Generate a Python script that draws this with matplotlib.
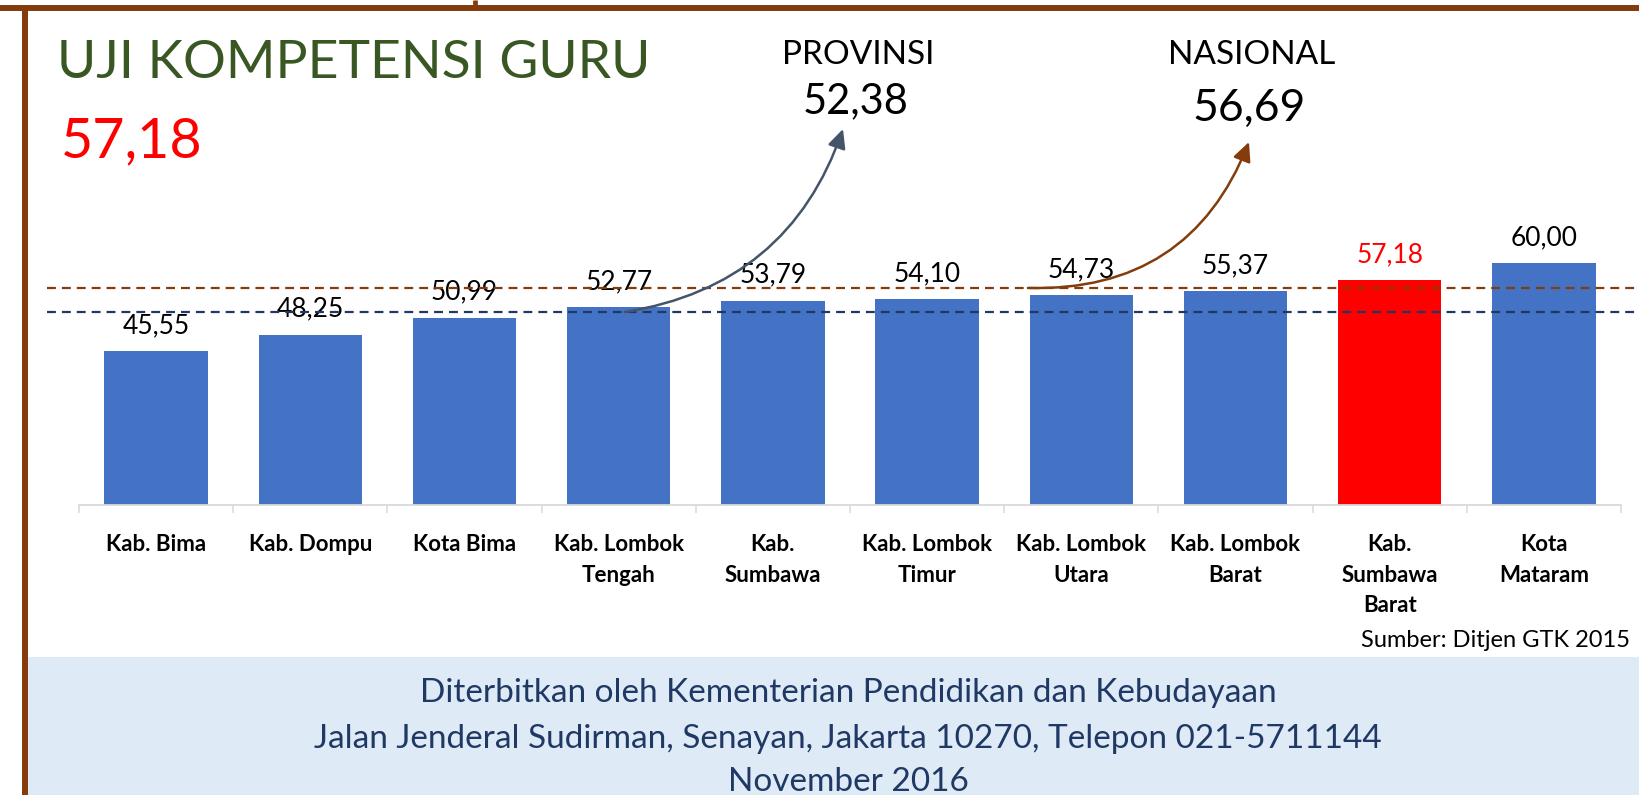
import numpy as np
import matplotlib
matplotlib.use("Agg")
import matplotlib.pyplot as plt
from matplotlib.patches import Rectangle
from matplotlib.lines import Line2D

plt.rcParams['font.family'] = ['Lato', 'DejaVu Sans']

# data
regions = ["Kab. Bima", "Kab. Dompu", "Kota Bima", "Kab. Lombok\nTengah",
           "Kab.\nSumbawa", "Kab. Lombok\nTimur", "Kab. Lombok\nUtara",
           "Kab. Lombok\nBarat", "Kab.\nSumbawa\nBarat", "Kota\nMataram"]
scores = [45.55, 48.25, 50.99, 52.77, 53.79, 54.10, 54.73, 55.37, 57.18, 60.00]
highlight = "Kab.\nSumbawa\nBarat"
own_score = "57,18"
provinsi = "52,38"
nasional = "56,69"
# dashed reference lines, levels as drawn in the picture
provinsi_line = 51.95
nasional_line = 55.9

footer = ["Diterbitkan oleh Kementerian Pendidikan dan Kebudayaan",
          "Jalan Jenderal Sudirman, Senayan, Jakarta 10270, Telepon 021-5711144",
          "November 2016"]

BLUE = "#4472C4"
RED = "#FF0000"
BROWN = "#843C0C"
NAVY = "#203864"
SLATE = "#44546A"

W, H = 1640, 795
fig = plt.figure(figsize=(W / 100, H / 100), dpi=100)


def fx(px):
    return px / W


def fy(py):
    return 1 - py / H


# footer band and frame
fig.add_artist(Rectangle((fx(25), 0), 1 - fx(25), (H - 657) / H,
                         transform=fig.transFigure, facecolor="#DEEBF7",
                         edgecolor="none", zorder=0))
fig.add_artist(Line2D([0, 1], [fy(8), fy(8)], transform=fig.transFigure,
                      color=BROWN, lw=4.3, solid_capstyle="butt"))
fig.add_artist(Line2D([fx(25), fx(25)], [fy(8), 0], transform=fig.transFigure,
                      color=BROWN, lw=4.3, solid_capstyle="butt"))
fig.add_artist(Line2D([fx(475.5), fx(475.5)], [1, fy(8)], transform=fig.transFigure,
                      color=BROWN, lw=3.4, solid_capstyle="butt"))

ax = fig.add_axes([fx(79), fy(505), fx(1621) - fx(79), (505 - 100) / H])
ax.patch.set_alpha(0)
x = np.arange(len(regions))
colors = [RED if r == highlight else BLUE for r in regions]
ax.bar(x, scores, width=0.67, color=colors, zorder=2)
ax.set_xlim(-0.5, len(regions) - 0.5)
ax.set_ylim(20.26, 86.76)

for xi, v, r in zip(x, scores, regions):
    ax.annotate(f"{v:.2f}".replace(".", ","), (xi, v), xytext=(0, 13),
                textcoords="offset points", ha="center", va="baseline",
                fontsize=19, color=RED if r == highlight else "black", zorder=3)

for lvl, col in [(nasional_line, BROWN), (provinsi_line, NAVY)]:
    ax.plot([-0.0208, 1.0123], [lvl, lvl], transform=ax.get_yaxis_transform(),
            clip_on=False, color=col, lw=1.6, dashes=(4, 2.7), zorder=4)

ax.set_xticks(x, regions, fontsize=16, fontweight="bold", linespacing=1.55)
ax.tick_params(axis="x", which="major", length=0, pad=21)
ax.set_xticks(np.arange(-0.5, len(regions)), minor=True)
ax.tick_params(axis="x", which="minor", length=5.8, width=1.1, color="#D9D9D9")
ax.set_yticks([])
for s in ["left", "top", "right"]:
    ax.spines[s].set_visible(False)
ax.spines["bottom"].set_color("#D9D9D9")
ax.spines["bottom"].set_linewidth(1.3)

# curved arrows to the averages
i_prov = regions.index("Kab. Lombok\nTengah")
i_nas = regions.index("Kab. Lombok\nUtara")
ax.annotate("", xy=(fx(843), fy(129)), xycoords="figure fraction",
            xytext=(i_prov + 0.04, provinsi_line), textcoords="data",
            arrowprops=dict(arrowstyle="-|>,head_length=0.82,head_width=0.39",
                            mutation_scale=14, color=SLATE, lw=1.8,
                            shrinkA=0, shrinkB=0,
                            connectionstyle="arc3,rad=0.3"), zorder=5)
ax.annotate("", xy=(fx(1249), fy(142)), xycoords="figure fraction",
            xytext=(i_nas - 0.346, nasional_line), textcoords="data",
            arrowprops=dict(arrowstyle="-|>,head_length=0.82,head_width=0.39",
                            mutation_scale=14, color=BROWN, lw=1.8,
                            shrinkA=0, shrinkB=0,
                            connectionstyle="arc3,rad=0.35"), zorder=5)

# texts
fig.text(fx(57), fy(78), "UJI KOMPETENSI GURU", fontsize=38.5, color="#385723",
         va="baseline", ha="left")
fig.text(fx(61), fy(157), own_score, fontsize=40, color=RED, va="baseline")
fig.text(fx(858), fy(64), "PROVINSI", fontsize=24, ha="center", va="baseline")
fig.text(fx(856), fy(113), provinsi, fontsize=30, ha="center", va="baseline")
fig.text(fx(1252), fy(64), "NASIONAL", fontsize=24, ha="center", va="baseline")
fig.text(fx(1249), fy(121), nasional, fontsize=32, ha="center", va="baseline")
fig.text(fx(1630), fy(647), "Sumber: Ditjen GTK 2015", fontsize=17,
         ha="right", va="baseline")
for line, base in zip(footer, [702, 748, 791]):
    fig.text(fx(848), fy(base), line, fontsize=24, color=NAVY,
             ha="center", va="baseline")

fig.savefig("out.png", dpi=100)
